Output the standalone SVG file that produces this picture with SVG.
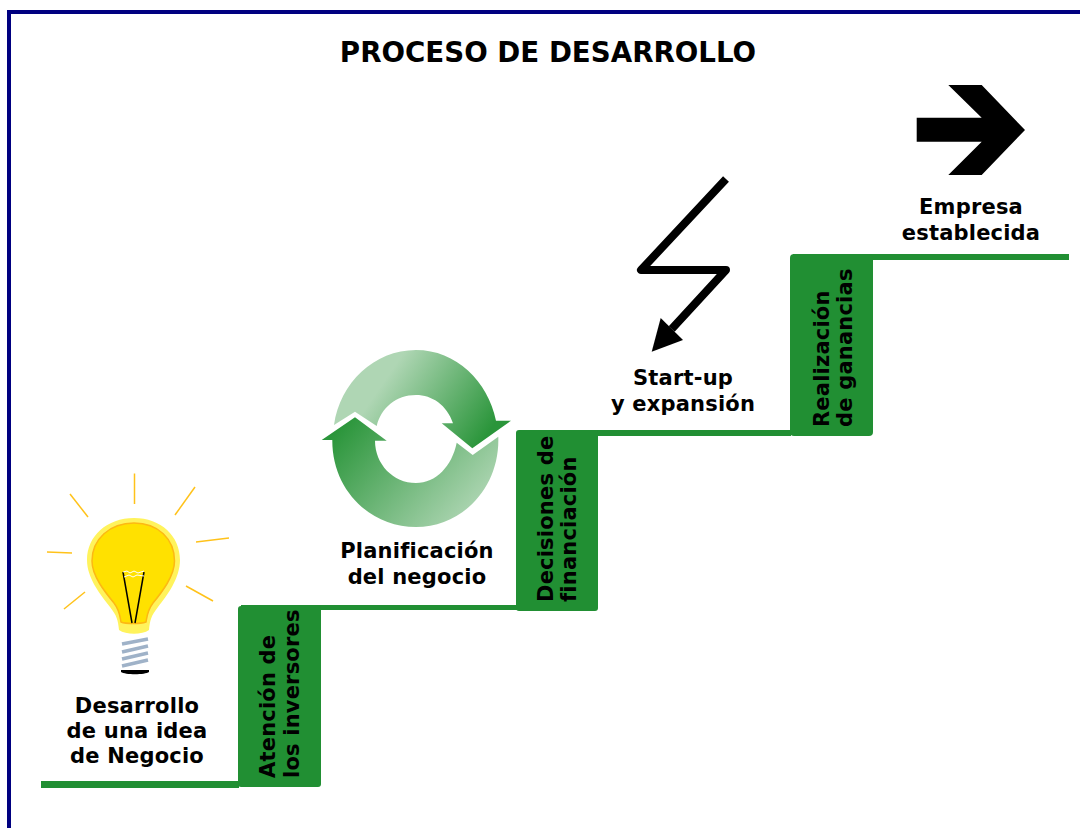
<svg xmlns="http://www.w3.org/2000/svg" width="1080" height="828" viewBox="0 0 1080 828">
<style>
text{font-family:"DejaVu Sans",Verdana,sans-serif;font-weight:bold;fill:#000;text-anchor:middle}
.l{font-size:21px;letter-spacing:.2px}
.v{font-size:21px;text-anchor:start;letter-spacing:.2px}
.s{fill:#218f33}
.ray{stroke:#ffc21a;stroke-width:1.5;fill:none}
</style>
<defs>
<linearGradient id="gt" gradientUnits="userSpaceOnUse" x1="385" y1="380" x2="480" y2="445"><stop offset="0" stop-color="#afd6b4"/><stop offset="1" stop-color="#2a953a"/></linearGradient>
<linearGradient id="gb" gradientUnits="userSpaceOnUse" x1="345" y1="420" x2="465" y2="525"><stop offset="0" stop-color="#2a953a"/><stop offset="1" stop-color="#afd6b4"/></linearGradient>
</defs>
<rect width="1080" height="828" fill="#fff"/>
<path d="M9 828V12H1080" fill="none" stroke="#000080" stroke-width="4"/>
<text x="548" y="62" font-size="27.700">PROCESO DE DESARROLLO</text>
<g id="connectors">
<rect class="s" x="41" y="781" width="198" height="7"/>
<rect class="s" x="241" y="605" width="276" height="5"/>
<rect class="s" x="519" y="430" width="272" height="6"/>
<rect class="s" x="793" y="254" width="276" height="6"/>
</g>
<g id="idea">
<g class="ray"><path d="M134.500 473.500V504"/><path d="M70 494L88 517"/><path d="M195 487L175 515"/><path d="M229 538L196 542"/><path d="M47 552L72 553"/><path d="M186 586L213 601"/><path d="M85 592L64 609"/></g>
<path d="M134 518C161 518 180 536 180 560C180 578 167 596 158 607C151 616 150 620 149 630C142 635 126 635 119 630C118 620 117 616 110 607C100 594 87 578 87 560C87 536 107 518 134 518Z" fill="#fff35c"/>
<path d="M134 523C158 523 174.500 539 174.500 561C174.500 576 162 592 153 603C147 611 147 617 146 622C140 624 126 624 121 622C120 617 120 611 114 603C105 592 92 576 92 561C92 539 110 523 134 523Z" fill="#ffe100" stroke="#fdb813" stroke-width="1.500"/>
<path d="M123 572L132 623M144 572L135 623" stroke="#000" stroke-width="1.500" fill="none"/>
<path d="M123 572L127 571L130 573L134 571L138 573L144 571M124 577L129 575L133 577L137 575L144 576" stroke="#fff" stroke-width="1" fill="none"/>
<path d="M122 644L148 639M122 652L148 646M122 659L148 653M122 666L148 660" stroke="#9fb2c8" stroke-width="3.500" fill="none"/>
<path d="M121 670H149V672C145 675 125 675 121 672Z" fill="#000"/>
<text class="l" x="137" y="713">Desarrollo</text>
<text class="l" x="137" y="738">de una idea</text>
<text class="l" x="137" y="763">de Negocio</text>
</g>
<g id="atencion">
<rect class="s" x="238" y="606" width="83" height="181" rx="3"/>
<text class="v" transform="translate(275 778) rotate(-90)">Atención de</text>
<text class="v" transform="translate(299 778) rotate(-90)">los inversores</text>
</g>
<g id="planificacion">
<path d="M334 425C340 383 374 350 416 350C456 350 488 381 496 420.700H511L472.300 448.300L441.700 423.300H453C447 405 432 395 416 395C396 395 381 408 376.700 426L355 411.700Z" fill="url(#gt)"/>
<path d="M355 417.300L386.700 440.700H375C375 464 393 483 416 483C436 483 452 466 456.700 442.700L472.700 455L498.300 436.700C500 488 462 527 416 527C370 527 332 490 332.300 440H321.700Z" fill="url(#gb)"/>
<text class="l" x="417" y="558">Planificación</text>
<text class="l" x="417" y="584">del negocio</text>
</g>
<g id="decisiones">
<rect class="s" x="516" y="430" width="82" height="181" rx="3"/>
<text class="v" transform="translate(553 602) rotate(-90)">Decisiones de</text>
<text class="v" transform="translate(576 602) rotate(-90)">financiación</text>
</g>
<g id="startup">
<path d="M726 179L641 270H726L671.700 329" fill="none" stroke="#000" stroke-width="8" stroke-linejoin="round"/>
<path d="M660.700 318L683 340L651.700 351.700Z" fill="#000"/>
<text class="l" x="683" y="385">Start-up</text>
<text class="l" x="683" y="411">y expansión</text>
</g>
<g id="realizacion">
<rect class="s" x="790" y="254" width="83" height="182" rx="4"/>
<text class="v" transform="translate(829 427) rotate(-90)">Realización</text>
<text class="v" transform="translate(852 427) rotate(-90)">de ganancias</text>
</g>
<g id="empresa">
<path d="M916.700 117.700H981.700L948.300 85H981.700L1025 130L981.700 175H948.300L981.700 141.700H916.700Z" fill="#000"/>
<text class="l" x="971" y="214">Empresa</text>
<text class="l" x="971" y="240">establecida</text>
</g>
</svg>
